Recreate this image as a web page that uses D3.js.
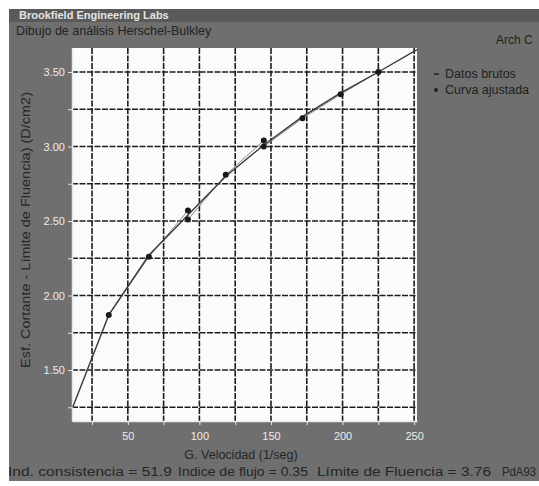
<!DOCTYPE html>
<html>
<head>
<meta charset="utf-8">
<script src="https://cdn.jsdelivr.net/npm/d3@7"></script>
<style>
  body { margin: 0; background: #fff; }
  svg { display: block; font-family: "Liberation Sans", Arial, sans-serif; }
</style>
</head>
<body>
<div id="chart"></div>
<script>
// raw points (shear rate 1/seg, stress D/cm2)
var rawX = [36.7, 64.7, 92, 92, 118.4, 145, 145, 172, 198.7, 225];
var rawY = [1.87, 2.26, 2.57, 2.51, 2.81, 3.04, 3.00, 3.19, 3.35, 3.50];

// fitted curve, drawn as segments in the original
var fitX = [11.5, 36.7, 64.7, 92, 118.4, 145, 172, 198.7, 225, 252];
var fitY = [1.25, 1.87, 2.27, 2.54, 2.80, 3.01, 3.20, 3.36, 3.50, 3.65];

var xLabels = [50, 100, 150, 200, 250];
var yLabels = [1.50, 2.00, 2.50, 3.00, 3.50];
var xGrid = [25, 50, 75, 100, 125, 150, 175, 200, 225, 250];
var yGrid = [1.25, 1.50, 1.75, 2.00, 2.25, 2.50, 2.75, 3.00, 3.25, 3.50];

var legendNames = ["Datos brutos", "Curva ajustada"];
var footerParts = ["Ind. consistencia = 51.9", "Indice de flujo = 0.35", "Límite de Fluencia = 3.76", "PdA93"];

var width = 539, height = 486;
var plot = {left: 72, right: 417, top: 48, bottom: 421};

var svg = d3.select("#chart").append("svg")
	.attr("width", width)
	.attr("height", height);

// scanned grey panel
svg.append("rect")
	.attr("x", 9).attr("y", 9)
	.attr("width", width - 9).attr("height", 472)
	.attr("fill", "#6f6f6f");
svg.append("rect")
	.attr("x", 9).attr("y", 9)
	.attr("width", width - 9).attr("height", 13)
	.attr("fill", "#5a5a5a");

svg.append("text")
	.attr("x", 19).attr("y", 19)
	.attr("font-size", 11).attr("font-weight", "bold")
	.attr("fill", "#e4e4e4")
	.text("Brookfield Engineering Labs");
svg.append("text")
	.attr("x", 16).attr("y", 35)
	.attr("font-size", 12.5)
	.attr("fill", "#222")
	.text("Dibujo de análisis Herschel-Bulkley");
svg.append("text")
	.attr("x", 496).attr("y", 44)
	.attr("font-size", 12)
	.attr("fill", "#222")
	.text("Arch C");

var x = d3.scaleLinear().domain([11, 252]).range([plot.left, plot.right]);
var y = d3.scaleLinear().domain([1.158, 3.661]).range([plot.bottom, plot.top]);

svg.append("rect")
	.attr("x", plot.left).attr("y", plot.top)
	.attr("width", plot.right - plot.left)
	.attr("height", plot.bottom - plot.top)
	.attr("fill", "#fbfbfb");

// dashed grid
var grid = svg.append("g").attr("class", "grid")
	.attr("stroke", "#1c1c1c")
	.attr("stroke-width", 1.6)
	.attr("stroke-dasharray", "6,1.5");
grid.selectAll(".vline").data(xGrid).enter().append("line")
	.attr("class", "vline")
	.attr("x1", function(d){ return x(d); })
	.attr("x2", function(d){ return x(d); })
	.attr("y1", plot.top).attr("y2", plot.bottom);
grid.selectAll(".hline").data(yGrid).enter().append("line")
	.attr("class", "hline")
	.attr("x1", plot.left).attr("x2", plot.right)
	.attr("y1", function(d){ return y(d); })
	.attr("y2", function(d){ return y(d); });

// axes, light on the grey
var xAxis = svg.append("g")
	.attr("transform", "translate(0," + plot.bottom + ")")
	.call(d3.axisBottom(x).tickValues(xGrid).tickSize(4).tickSizeOuter(0)
		.tickFormat(function(d){ return xLabels.indexOf(d) >= 0 ? d : ""; }));
var yAxis = svg.append("g")
	.attr("transform", "translate(" + plot.left + ",0)")
	.call(d3.axisLeft(y).tickValues(yGrid).tickSize(4).tickSizeOuter(0)
		.tickFormat(function(d){ return yLabels.indexOf(d) >= 0 ? d3.format(".2f")(d) : ""; }));

[xAxis, yAxis].forEach(function(a){
	a.attr("font-family", null).attr("font-size", 11);
	a.select(".domain").attr("stroke", "#e8e8e8").attr("stroke-width", 1.5);
	a.selectAll(".tick line").attr("stroke", "#e8e8e8");
	a.selectAll(".tick text").attr("fill", "#ececec");
});
xAxis.selectAll(".tick text").attr("dy", "1.05em");
yAxis.selectAll(".tick text").attr("x", -7);

svg.append("text")
	.attr("x", 241).attr("y", 459)
	.attr("text-anchor", "middle")
	.attr("font-size", 12.5)
	.attr("fill", "#262626")
	.text("G. Velocidad (1/seg)");
svg.append("text")
	.attr("transform", "translate(30,230) rotate(-90)")
	.attr("text-anchor", "middle")
	.attr("font-size", 12.5)
	.attr("textLength", 276)
	.attr("lengthAdjust", "spacingAndGlyphs")
	.attr("fill", "#262626")
	.text("Esf. Cortante - Límite de Fluencia) (D/cm2)");

// footer pieces sit at fixed spots in the scan
var footX = [8, 178, 317, 502];
var footW = [164, 130, 174, 34];
svg.selectAll(".foot").data(footerParts).enter().append("text")
	.attr("class", "foot")
	.attr("x", function(d, i){ return footX[i]; })
	.attr("y", 476)
	.attr("font-size", 12.5)
	.attr("textLength", function(d, i){ return footW[i]; })
	.attr("lengthAdjust", "spacingAndGlyphs")
	.attr("fill", "#262626")
	.text(function(d){ return d; });

// lines
var rawPts = rawX.map(function(d, i){ return [d, rawY[i]]; });
var fitPts = fitX.map(function(d, i){ return [d, fitY[i]]; });
var line = d3.line()
	.x(function(d){ return x(d[0]); })
	.y(function(d){ return y(d[1]); });

svg.append("path")
	.datum(rawPts)
	.attr("d", line)
	.attr("fill", "none")
	.attr("stroke", "#8a8a8a")
	.attr("stroke-width", 1);
svg.append("path")
	.datum(fitPts)
	.attr("d", line)
	.attr("fill", "none")
	.attr("stroke", "#3a3a3a")
	.attr("stroke-width", 1.4);

svg.selectAll(".pt").data(rawPts).enter().append("circle")
	.attr("class", "pt")
	.attr("cx", function(d){ return x(d[0]); })
	.attr("cy", function(d){ return y(d[1]); })
	.attr("r", 3)
	.attr("fill", "#1a1a1a");

// legend
var leg = svg.append("g").attr("transform", "translate(436,78)");
leg.append("line")
	.attr("x1", -2).attr("x2", 3).attr("y1", -4).attr("y2", -4)
	.attr("stroke", "#222").attr("stroke-width", 1.5);
leg.append("circle")
	.attr("cx", 0).attr("cy", 12).attr("r", 2)
	.attr("fill", "#222");
leg.selectAll("text").data(legendNames).enter().append("text")
	.attr("x", 9)
	.attr("y", function(d, i){ return i * 16; })
	.attr("font-size", 12.5)
	.attr("fill", "#1e1e1e")
	.text(function(d){ return d; });
</script>
</body>
</html>
